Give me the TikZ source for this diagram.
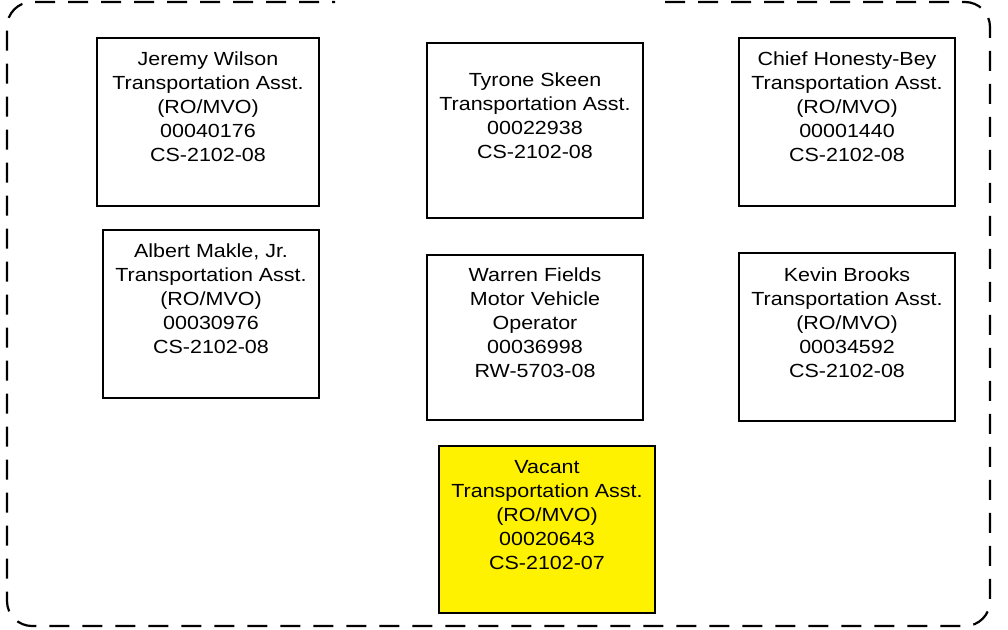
\documentclass[tikz,border=0pt]{standalone}
\usepackage{fontspec}
\setmainfont[FakeStretch=1.13]{Liberation Sans}
\begin{document}
\begin{tikzpicture}[x=1pt,y=-1pt,
  card/.style={draw=black,line width=2pt,fill=white},
  vacantcard/.style={card,fill=yellow},
  cardtext/.style={align=center,inner sep=0pt,font=\fontsize{19}{24}\selectfont,text=black},
  frame/.style={draw=black,line width=2.2pt,dash pattern=on 20pt off 13pt,rounded corners=25pt}]
\useasboundingbox (0,0) rectangle (1008,629);
\fill[white] (0,0) rectangle (1008,629);
\draw[frame] (665,2) -- (990,2) -- (990,626) -- (7,626) -- (7,2) -- (335,2);
% boxes
\draw[card] (97,38) rectangle (319,206);
\draw[card] (427,43) rectangle (643,218);
\draw[card] (739,38) rectangle (955,206);
\draw[card] (103,230) rectangle (319,398);
\draw[card] (427,255) rectangle (643,420);
\draw[card] (739,253) rectangle (955,421);
\draw[vacantcard] (439,446) rectangle (655,613);
% texts
\node[cardtext] (wilson) at (208,107) {Jeremy Wilson\\Transportation Asst.\\(RO/MVO)\\00040176\\CS-2102-08};
\node[cardtext] (skeen) at (535,116) {Tyrone Skeen\\Transportation Asst.\\00022938\\CS-2102-08};
\node[cardtext] (honesty) at (847,107) {Chief Honesty-Bey\\Transportation Asst.\\(RO/MVO)\\00001440\\CS-2102-08};
\node[cardtext] (makle) at (211,299) {Albert Makle, Jr.\\Transportation Asst.\\(RO/MVO)\\00030976\\CS-2102-08};
\node[cardtext] (fields) at (535,323) {Warren Fields\\Motor Vehicle\\Operator\\00036998\\RW-5703-08};
\node[cardtext] (brooks) at (847,323) {Kevin Brooks\\Transportation Asst.\\(RO/MVO)\\00034592\\CS-2102-08};
\node[cardtext] (vacant) at (547,515) {Vacant\\Transportation Asst.\\(RO/MVO)\\00020643\\CS-2102-07};
\end{tikzpicture}
\end{document}
